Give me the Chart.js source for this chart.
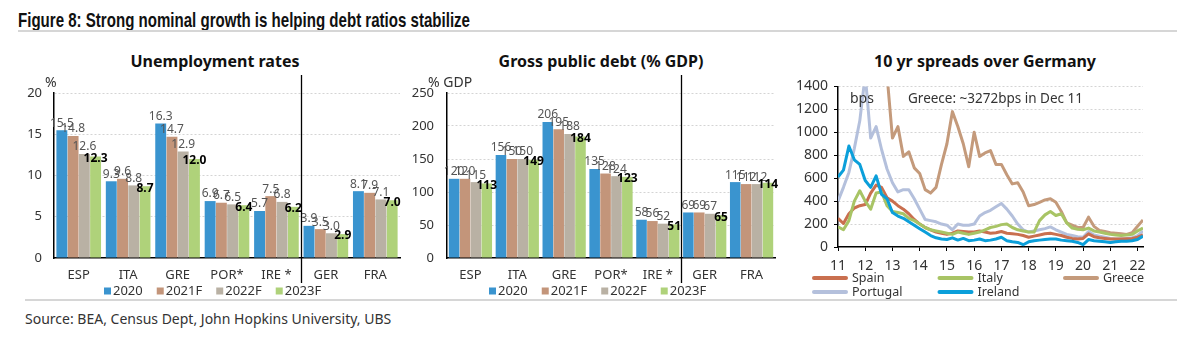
<!DOCTYPE html>
<html lang="en">
<head>
<meta charset="UTF-8">
<title>Figure 8: Strong nominal growth is helping debt ratios stabilize</title>
<script src="https://cdn.jsdelivr.net/npm/chart.js@4"></script>
<style>
  body { margin: 0; width: 1200px; height: 346px; background: #fff; position: relative; overflow: hidden;
         font-family: 'Noto Sans', sans-serif; color: #222; }
  #figTitle { position: absolute; left: 18px; top: 7px; white-space: nowrap; transform-origin: 0 0;
              font-family: 'Liberation Sans Narrow', 'Liberation Sans', sans-serif; font-weight: bold;
              font-size: 21px; line-height: 26px; color: #111; }
  .rule { position: absolute; height: 2px; background: #d6d6d6; }
  .panelTitle { position: absolute; top: 50px; width: 300px; text-align: center; font-weight: bold;
                font-size: 16px; line-height: 22px; color: #111; }
  #source { position: absolute; left: 25px; top: 309px; font-size: 14px; line-height: 20px; color: #333; }
  canvas { position: absolute; }
</style>
</head>
<body>
<div id="figTitle">Figure 8: Strong nominal growth is helping debt ratios stabilize</div>
<div class="rule" style="left:18px; top:30px; width:1159px;"></div>
<div class="panelTitle" style="left:65px;">Unemployment rates</div>
<div class="panelTitle" style="left:451px;">Gross public debt (% GDP)</div>
<div class="panelTitle" style="left:835px;">10 yr spreads over Germany</div>
<canvas id="unempChart" width="405" height="230" style="left:0; top:72px;"></canvas>
<canvas id="debtChart" width="390" height="230" style="left:392px; top:72px;"></canvas>
<canvas id="spreadChart" width="420" height="232" style="left:780px; top:72px;"></canvas>
<div class="rule" style="left:25px; top:299px; width:1152px;"></div>
<div id="source">Source: BEA, Census Dept, John Hopkins University, UBS</div>

<script>
// ---- data ----
const countries = ['ESP', 'ITA', 'GRE', 'POR*', 'IRE *', 'GER', 'FRA'];
const barYears = ['2020', '2021F', '2022F', '2023F'];

const unemp2020 = [15.5, 9.3, 16.3, 6.9, 5.7, 3.9, 8.1];
const unemp2021 = [14.8, 9.6, 14.7, 6.7, 7.5, 3.5, 7.9];
const unemp2022 = [12.6, 8.8, 12.9, 6.5, 6.8, 3.0, 7.1];
const unemp2023 = [12.3, 8.7, 12.0, 6.4, 6.2, 2.9, 7.0];

const debt2020 = [120, 156, 206, 135, 58, 69, 115];
const debt2021 = [120, 150, 195, 128, 56, 69, 112];
const debt2022 = [115, 150, 188, 124, 52, 67, 112];
const debt2023 = [113, 149, 184, 123, 51, 65, 114];

// spreads over Germany, bps (x = year, 11 = 2011)
const spreadYears = [11, 12, 13, 14, 15, 16, 17, 18, 19, 20, 21, 22];
const spreadDates = [11.0, 11.2, 11.4, 11.6, 11.8, 12.0, 12.2, 12.4, 12.6, 12.8,
  13.0, 13.2, 13.4, 13.6, 13.8, 14.0, 14.2, 14.4, 14.6, 14.8,
  15.0, 15.2, 15.4, 15.6, 15.8, 16.0, 16.2, 16.4, 16.6, 16.8,
  17.0, 17.2, 17.4, 17.6, 17.8, 18.0, 18.2, 18.4, 18.6, 18.8,
  19.0, 19.2, 19.4, 19.6, 19.8, 20.0, 20.2, 20.4, 20.6, 20.8,
  21.0, 21.2, 21.4, 21.6, 21.8, 22.0, 22.2];
const spain = [250, 205, 290, 340, 360, 370, 470, 540, 520, 430,
  400, 360, 330, 290, 240, 200, 170, 150, 130, 120,
  110, 120, 140, 135, 130, 130, 140, 130, 120, 125,
  135, 120, 115, 110, 100, 85, 95, 105, 115, 120,
  110, 100, 85, 75, 70, 75, 115, 90, 80, 75,
  70, 70, 70, 72, 75, 85, 105];
const italy = [175, 150, 230, 400, 490, 400, 330, 470, 480, 360,
  310, 300, 290, 250, 230, 200, 170, 150, 140, 130,
  120, 110, 130, 120, 110, 120, 130, 150, 170, 180,
  195, 200, 170, 150, 140, 130, 130, 230, 280, 310,
  275, 290, 210, 165, 155, 150, 165, 140, 130, 120,
  110, 105, 100, 105, 110, 140, 165];
const greece = [null, null, null, null, null, null, null, null, 2600, 1500,
  950, 1050, 790, 830, 690, 640, 500, 470, 520, 720,
  900, 1180, 1050, 900, 700, 1000, 790, 820, 840, 720,
  720, 630, 550, 560, 480, 360, 370, 390, 410, 420,
  390, 310, 210, 190, 170, 170, 260, 180, 145, 135,
  125, 120, 115, 110, 125, 180, 235];
const portugal = [400, 520, 650, 860, 1100, 1500, 950, 1050, 850, 680,
  560, 480, 500, 500, 420, 330, 240, 230, 220, 200,
  190, 150, 200, 190, 190, 200, 270, 300, 320, 350,
  380, 330, 270, 200, 150, 130, 140, 150, 160, 175,
  150, 130, 110, 100, 90, 85, 135, 105, 95, 85,
  75, 70, 72, 75, 80, 100, 140];
const ireland = [610, 670, 880, 760, 720, 580, 520, 620, 460, 420,
  300, 270, 250, 220, 190, 160, 130, 100, 80, 70,
  65, 80, 60, 75, 55, 60, 70, 55, 60, 70,
  85, 55, 45, 40, 20, 45, 55, 60, 65, 70,
  70, 60, 55, 50, 40, 20, 65, 55, 50, 45,
  40, 45, 50, 50, 55, 65, 95];

const barColors = ['#3a94cf', '#c3957a', '#b9b1a4', '#afd27a'];

Chart.defaults.font.family = "'Noto Sans', sans-serif";
Chart.defaults.color = '#333';

// ---- small plugins ----
// value labels over bars; the last series is bold
function valueLabels(decimals) {
  return {
    id: 'valueLabels',
    afterDatasetsDraw(chart) {
      const ctx = chart.ctx;
      const last = chart.data.datasets.length - 1;
      ctx.save();
      ctx.textAlign = 'center';
      chart.data.datasets.forEach((ds, i) => {
        chart.getDatasetMeta(i).data.forEach((bar, j) => {
          const text = ds.data[j].toFixed(decimals);
          if (i === last) {
            ctx.font = "bold 12px 'Noto Sans'";
            ctx.fillStyle = '#000';
            ctx.textBaseline = 'middle';
            ctx.fillText(text, bar.x, bar.y + 2);
          } else {
            ctx.font = "12px 'Noto Sans'";
            ctx.fillStyle = '#555';
            ctx.textBaseline = 'bottom';
            ctx.fillText(text, bar.x, bar.y - 1);
          }
        });
      });
      ctx.restore();
    }
  };
}

// vertical line between two category groups
function groupDivider(afterIndex) {
  return {
    id: 'groupDivider',
    afterDraw(chart) {
      const x = chart.scales.x, a = chart.chartArea, ctx = chart.ctx;
      const px = Math.round((x.getPixelForValue(afterIndex) + x.getPixelForValue(afterIndex + 1)) / 2) + 0.5;
      ctx.save();
      ctx.strokeStyle = '#000';
      ctx.lineWidth = 1.3;
      ctx.beginPath();
      ctx.moveTo(px, a.top - 18);
      ctx.lineTo(px, a.bottom + 25);
      ctx.stroke();
      ctx.restore();
    }
  };
}

// free text placed relative to the plot area
function notes(items) {
  return {
    id: 'notes',
    afterDraw(chart) {
      const a = chart.chartArea, ctx = chart.ctx;
      ctx.save();
      ctx.fillStyle = '#333';
      ctx.textAlign = 'left';
      ctx.textBaseline = 'middle';
      items.forEach(n => {
        ctx.font = n.font;
        ctx.fillText(n.text, a.left + n.dx, a.top + n.dy);
      });
      ctx.restore();
    }
  };
}

// legend drawn under the plot: boxes in a row, or line samples on a grid
function bottomLegend(o) {
  return {
    id: 'bottomLegend',
    afterDraw(chart) {
      const a = chart.chartArea, ctx = chart.ctx;
      ctx.save();
      ctx.font = o.font;
      ctx.textAlign = 'left';
      ctx.textBaseline = 'middle';
      let x = a.left + o.dx;
      chart.data.datasets.forEach((ds, i) => {
        let ix = x, iy = a.bottom + o.dy;
        if (o.cols) {
          ix = a.left + o.dx + (i % o.cols) * o.colWidth;
          iy = a.bottom + o.dy + Math.floor(i / o.cols) * o.rowHeight;
        }
        let sw;
        if (o.swatch === 'line') {
          ctx.strokeStyle = ds.borderColor;
          ctx.lineWidth = 4;
          ctx.lineCap = 'round';
          ctx.beginPath();
          ctx.moveTo(ix + 2, iy);
          ctx.lineTo(ix + o.lineLength - 2, iy);
          ctx.stroke();
          sw = o.lineLength;
        } else {
          ctx.fillStyle = ds.backgroundColor;
          ctx.fillRect(ix, iy - 3.5, 7, 7);
          sw = 7;
        }
        ctx.fillStyle = '#333';
        ctx.fillText(ds.label, ix + sw + o.gap, iy);
        x = ix + sw + o.gap + ctx.measureText(ds.label).width + o.spacing;
      });
      ctx.restore();
    }
  };
}

function barChart(id, series, c) {
  return new Chart(document.getElementById(id), {
    type: 'bar',
    data: {
      labels: countries,
      datasets: series.map((d, i) => ({
        label: barYears[i],
        data: d,
        backgroundColor: barColors[i],
        barPercentage: 0.97,
        categoryPercentage: c.catPct
      }))
    },
    options: {
      responsive: false,
      animation: false,
      layout: { padding: { top: 21, right: c.padRight, bottom: 18, left: 0 } },
      scales: {
        x: {
          grid: { display: false, drawTicks: false },
          border: { display: true, color: '#000', width: 1.5 },
          ticks: { padding: 9, font: { size: 13 }, color: '#333', maxRotation: 0 },
          afterFit: s => { s.height = 26; }
        },
        y: {
          min: 0,
          max: c.max,
          ticks: { stepSize: c.step, padding: c.yPad, font: { size: 13 }, color: '#333' },
          grid: { drawTicks: false, color: ctx => ctx.tick.value === 0 ? 'rgba(0,0,0,0)' : '#d4d4d4' },
          border: { display: true, color: '#000', width: 1.5, dash: [2, 2] },
          afterFit: s => { s.width = c.yWidth; }
        }
      },
      plugins: { legend: { display: false }, tooltip: { enabled: false } }
    },
    plugins: [
      valueLabels(c.decimals),
      groupDivider(4),
      notes([{ text: c.unit, dx: c.unitDx, dy: -10, font: "14px 'Noto Sans'" }]),
      bottomLegend({ dx: c.legendDx, dy: 33, font: "13px 'Noto Sans'", gap: 2, spacing: 14 })
    ]
  });
}

barChart('unempChart', [unemp2020, unemp2021, unemp2022, unemp2023],
  { max: 20, step: 5, decimals: 1, catPct: 0.91, yWidth: 54, yPad: 12, padRight: 5, unit: '%', unitDx: -9, legendDx: 50 });

barChart('debtChart', [debt2020, debt2021, debt2022, debt2023],
  { max: 250, step: 50, decimals: 0, catPct: 0.93, yWidth: 55, yPad: 13, padRight: 7, unit: '% GDP', unitDx: -19, legendDx: 42 });

const spreadSeries = [
  { label: 'Spain', data: spain, color: '#c96f4f', order: 3 },
  { label: 'Italy', data: italy, color: '#a8c465', order: 2 },
  { label: 'Greece', data: greece, color: '#c49a7b', order: 5 },
  { label: 'Portugal', data: portugal, color: '#b4c0dc', order: 4 },
  { label: 'Ireland', data: ireland, color: '#0b9fda', order: 1 }
];

new Chart(document.getElementById('spreadChart'), {
  type: 'line',
  data: {
    labels: spreadDates,
    datasets: spreadSeries.map(s => ({
      label: s.label,
      data: s.data,
      borderColor: s.color,
      backgroundColor: s.color,
      order: s.order
    }))
  },
  options: {
    responsive: false,
    animation: false,
    layout: { padding: { top: 13, right: 57, bottom: 29, left: 0 } },
    elements: { point: { radius: 0 }, line: { borderWidth: 3, tension: 0, borderJoinStyle: 'round' } },
    scales: {
      x: {
        type: 'linear',
        min: 11,
        max: 22.2,
        afterBuildTicks: s => { s.ticks = spreadYears.map(v => ({ value: v })); },
        ticks: { padding: 7, font: { size: 14 }, color: '#333', maxRotation: 0, callback: v => String(v) },
        grid: { display: true, drawOnChartArea: false, drawTicks: true, tickLength: 4, color: '#000' },
        border: { display: true, color: '#000', width: 1.5 },
        afterFit: s => { s.height = 28; }
      },
      y: {
        min: 0,
        max: 1400,
        ticks: { stepSize: 200, padding: 6, font: { size: 14 }, color: '#333', callback: v => String(v) },
        grid: { drawTicks: true, tickLength: 4, tickColor: '#000',
                color: ctx => ctx.tick.value === 0 ? 'rgba(0,0,0,0)' : '#d4d4d4' },
        border: { display: true, color: '#000', width: 1.5, dash: [2, 2] },
        afterFit: s => { s.width = 58; }
      }
    },
    plugins: { legend: { display: false }, tooltip: { enabled: false } }
  },
  plugins: [
    notes([
      { text: 'bps', dx: 12, dy: 13, font: "14px 'Noto Sans'" },
      { text: 'Greece: ~3272bps in Dec 11', dx: 70, dy: 13, font: "13.5px 'Noto Sans'" }
    ]),
    bottomLegend({ swatch: 'line', dx: -26, dy: 31, cols: 3, colWidth: 125.5, rowHeight: 14, lineLength: 36,
                   gap: 4, spacing: 0, font: "12.5px 'Noto Sans'" })
  ]
});

// squeeze the condensed headline to the original width
function fitTitle() {
  const t = document.getElementById('figTitle');
  t.style.transform = 'none';
  const w = t.getBoundingClientRect().width;
  t.style.transform = 'scaleX(' + (452 / w) + ')';
}
fitTitle();
document.fonts.ready.then(fitTitle);
</script>
</body>
</html>
